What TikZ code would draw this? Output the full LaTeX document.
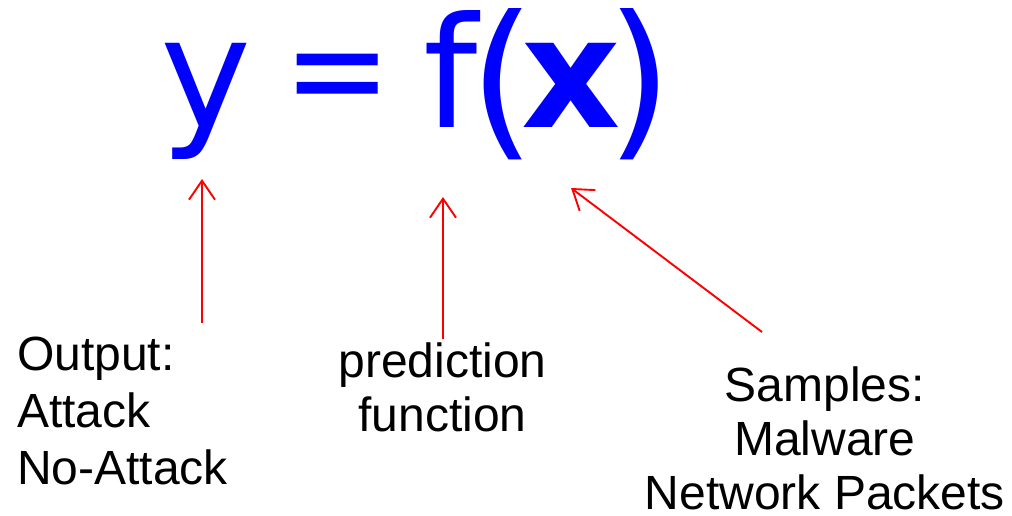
\documentclass[tikz,border=0pt]{standalone}
\usepackage{fontspec}
\setmainfont{Liberation Sans}
\newfontfamily\eqfont{DejaVu Sans}
\usetikzlibrary{arrows.meta}
\begin{document}
\begin{tikzpicture}[x=1pt,y=-1pt,
  eq/.style={inner sep=0pt, text=blue, font=\eqfont\fontsize{154}{154}\selectfont},
  par/.style={inner sep=0pt, text=blue, font=\eqfont\fontsize{170}{170}\selectfont},
  lbl/.style={inner sep=0pt, text=black, font=\fontsize{48}{57}\selectfont},
  lblc/.style={inner sep=0pt, text=black, font=\fontsize{48}{54}\selectfont},
  arr/.style={draw=red, line width=1.9pt, -{Straight Barb[length=19pt,width=26pt]}}]
\useasboundingbox (0,0) rectangle (1012,515);
% equation
\node[eq, anchor=base] (ysym) at (206.5,127) {y};
\node[eq, anchor=center] (eqsign) at (337.5,86) {\scalebox{0.84}[0.92]{=}};
\node[eq, anchor=base] (fsym) at (450.5,127) {f};
\node[par, anchor=center] (lpar) at (502.5,84.5) {(};
\node[eq, anchor=base] (xsym) at (571,127) {\bfseries x};
\node[par, anchor=center] (rpar) at (640,84.5) {)};
% labels
\node[lbl, anchor=north west, align=left] (out) at (17,337) {Output:\\Attack\\No-Attack};
\node[lblc, anchor=north, align=center] (pred) at (442.5,343) {prediction\\function};
\node[lblc, anchor=north, align=center] (samp) at (825,367) {Samples:\\Malware\\Network Packets};
% arrow ends
\coordinate (t1) at (202,323);
\coordinate (h1) at (202,179);
\coordinate (t2) at (443,339);
\coordinate (h2) at (443,197);
\coordinate (t3) at (762,332);
\coordinate (h3) at (571,188);
\draw[arr] (t1) -- (h1);
\draw[arr] (t2) -- (h2);
\draw[arr] (t3) -- (h3);
\end{tikzpicture}
\end{document}
